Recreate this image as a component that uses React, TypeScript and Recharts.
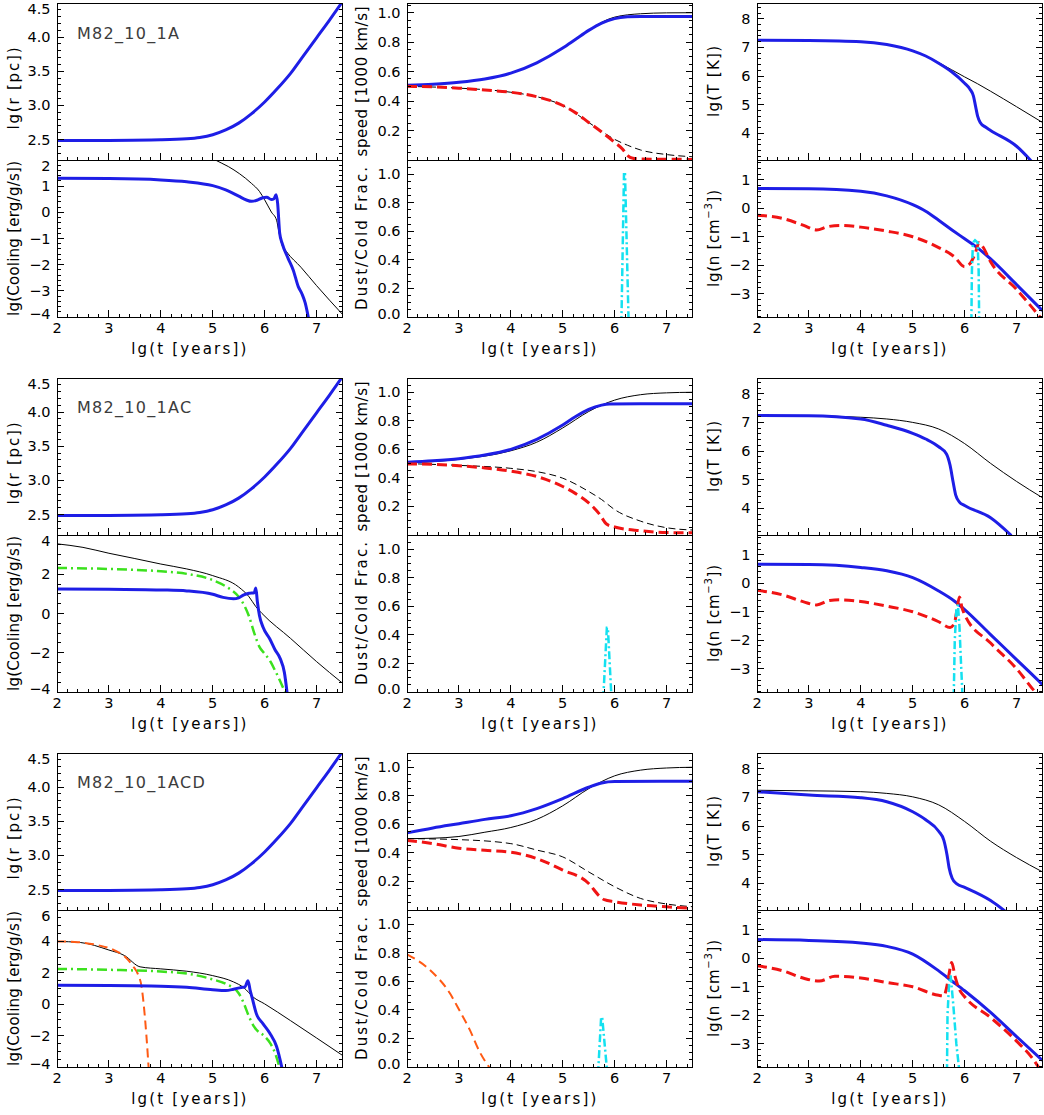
import React from 'react';
import { LineChart, Line, XAxis, YAxis } from 'recharts';

type Pt = [number, number];

const runNames = ['M82_10_1A', 'M82_10_1AC', 'M82_10_1ACD'];

// shared time axis, lg(t [years])
const tRange: [number, number] = [2, 7.5];
const tTicks = [2, 3, 4, 5, 6, 7];

const rTicks = [2.5, 3.0, 3.5, 4.0, 4.5];
const coolTicks = [
  [-4, -3, -2, -1, 0, 1, 2],
  [-4, -2, 0, 2, 4],
  [-4, -2, 0, 2, 4, 6],
];
const speedTicks = [0.2, 0.4, 0.6, 0.8, 1.0];
const fracTicks = [0.0, 0.2, 0.4, 0.6, 0.8, 1.0];
const tempTicks = [4, 5, 6, 7, 8];
const densTicks = [-3, -2, -1, 0, 1];

// shell radius, identical for the three runs
const radius: Pt[] = [[2, 2.485], [3, 2.487], [4, 2.495], [4.5, 2.51], [4.75, 2.53], [5, 2.57], [5.25, 2.64], [5.5, 2.74], [5.75, 2.88], [6, 3.05], [6.25, 3.25], [6.5, 3.47], [6.75, 3.73], [7, 3.99], [7.25, 4.25], [7.5, 4.52]];

// --- run A ---
const coolA_blue: Pt[] = [[2, 1.3], [3, 1.29], [4, 1.24], [4.5, 1.17], [5, 1.02], [5.25, 0.86], [5.5, 0.62], [5.65, 0.47], [5.75, 0.42], [5.85, 0.46], [5.95, 0.55], [6.04, 0.58], [6.13, 0.49], [6.18, 0.52], [6.22, 0.67], [6.25, 0.35], [6.29, -0.8], [6.34, -1.2], [6.45, -1.75], [6.55, -2.2], [6.65, -2.85], [6.72, -3.12], [6.78, -3.45], [6.86, -4.2]];
const coolA_black: Pt[] = [[4.8, 2.3], [5.05, 2.0], [5.3, 1.75], [5.52, 1.47], [5.75, 1.1], [5.9, 0.8], [6.0, 0.48], [6.13, 0.01], [6.23, -0.3], [6.27, -0.7], [6.33, -1.22], [6.42, -1.5], [6.7, -2.1], [7.0, -2.8], [7.5, -3.9]];
const speedA_blue: Pt[] = [[2, 0.507], [2.5, 0.515], [3, 0.528], [3.5, 0.55], [4, 0.59], [4.5, 0.66], [5, 0.76], [5.25, 0.82], [5.5, 0.88], [5.75, 0.93], [6, 0.96], [6.25, 0.972], [6.5, 0.975], [7, 0.975], [7.5, 0.975]];
const speedA_black: Pt[] = [[2, 0.505], [3, 0.527], [4, 0.59], [4.5, 0.66], [5, 0.76], [5.5, 0.88], [5.75, 0.935], [6, 0.97], [6.5, 0.993], [7, 0.999], [7.5, 1.0]];
const speedA_red: Pt[] = [[2, 0.5], [2.5, 0.497], [3, 0.488], [3.5, 0.475], [4, 0.46], [4.5, 0.43], [5, 0.37], [5.25, 0.32], [5.5, 0.255], [5.75, 0.19], [6, 0.12], [6.15, 0.075], [6.25, 0.03], [6.35, 0.012], [6.5, 0.007], [7, 0.005], [7.5, 0.004]];
const speedA_dash: Pt[] = [[2, 0.5], [3, 0.488], [4, 0.46], [4.5, 0.43], [5, 0.37], [5.5, 0.255], [5.75, 0.195], [6, 0.14], [6.25, 0.1], [6.5, 0.068], [7, 0.037], [7.5, 0.022]];
const fracA_cyan: Pt[] = [[6.13, -0.05], [6.18, 1.0], [6.2, 1.0], [6.27, -0.05]];
const tempA_blue: Pt[] = [[2, 7.25], [3, 7.24], [4, 7.2], [4.5, 7.1], [5, 6.88], [5.25, 6.7], [5.5, 6.45], [5.75, 6.15], [6, 5.75], [6.1, 5.55], [6.17, 5.3], [6.21, 4.95], [6.25, 4.6], [6.3, 4.38], [6.4, 4.22], [6.5, 4.1], [7, 3.55], [7.3, 3.0]];
const tempA_black: Pt[] = [[2, 7.25], [3, 7.24], [4, 7.2], [4.5, 7.1], [5, 6.88], [5.25, 6.7], [5.5, 6.47], [5.75, 6.22], [6, 5.97], [6.25, 5.73], [6.5, 5.47], [7, 4.93], [7.5, 4.38]];
const densA_blue: Pt[] = [[2, 0.7], [3, 0.69], [4, 0.6], [4.5, 0.44], [5, 0.13], [5.25, -0.1], [5.5, -0.42], [5.75, -0.75], [6, -1.07], [6.25, -1.39], [6.5, -1.78], [7, -2.68], [7.5, -3.6]];
const densA_red: Pt[] = [[2, -0.24], [2.5, -0.36], [2.9, -0.6], [3.15, -0.76], [3.35, -0.65], [3.6, -0.6], [4, -0.66], [4.5, -0.8], [5, -1.0], [5.5, -1.38], [5.8, -1.7], [6, -2.05], [6.1, -1.95], [6.2, -1.6], [6.28, -1.2], [6.35, -1.35], [6.5, -1.88], [7, -2.85], [7.45, -3.82], [7.55, -4.05]];
const densA_cyan: Pt[] = [[6.13, -4], [6.14, -2.2], [6.16, -1.2], [6.2, -1.12], [6.25, -1.2], [6.27, -2.2], [6.28, -4]];

// --- run AC ---
const coolAC_black: Pt[] = [[2, 3.55], [2.5, 3.37], [3, 3.07], [3.5, 2.8], [4, 2.52], [4.5, 2.27], [5, 1.93], [5.5, 1.35], [5.7, 0.85], [5.83, 0.35], [5.95, 0.0], [6.5, -1.27], [7, -2.45], [7.5, -3.55]];
const coolAC_green: Pt[] = [[2, 2.32], [3, 2.27], [4, 2.15], [4.5, 2.02], [5, 1.7], [5.25, 1.38], [5.5, 0.85], [5.6, 0.45], [5.7, -0.15], [5.8, -1.0], [5.9, -1.7], [6, -2.05], [6.1, -2.4], [6.2, -2.9], [6.3, -3.45], [6.42, -4.2]];
const coolAC_blue: Pt[] = [[2, 1.25], [3, 1.24], [4, 1.2], [4.5, 1.15], [5, 0.98], [5.2, 0.82], [5.4, 0.75], [5.5, 0.8], [5.6, 0.95], [5.7, 1.03], [5.8, 1.06], [5.83, 1.3], [5.86, 0.6], [5.9, -0.1], [5.97, -0.7], [6.1, -1.3], [6.2, -1.85], [6.3, -2.3], [6.38, -3.0], [6.44, -4.2]];
const speedAC_blue: Pt[] = [[2, 0.51], [2.5, 0.52], [3, 0.535], [3.5, 0.56], [4, 0.6], [4.5, 0.67], [5, 0.77], [5.25, 0.83], [5.5, 0.88], [5.75, 0.91], [5.9, 0.918], [6.5, 0.919], [7.5, 0.919]];
const speedAC_black: Pt[] = [[2, 0.505], [3, 0.53], [4, 0.59], [4.5, 0.65], [5, 0.75], [5.5, 0.865], [5.75, 0.91], [6, 0.945], [6.5, 0.983], [7, 0.996], [7.5, 1.0]];
const speedAC_red: Pt[] = [[2, 0.498], [2.5, 0.495], [3, 0.485], [3.5, 0.47], [4, 0.447], [4.5, 0.41], [5, 0.34], [5.25, 0.29], [5.5, 0.225], [5.7, 0.15], [5.85, 0.075], [6, 0.056], [6.5, 0.03], [7, 0.017], [7.5, 0.015]];
const speedAC_dash: Pt[] = [[2, 0.5], [3, 0.488], [4, 0.467], [4.5, 0.444], [5, 0.398], [5.5, 0.305], [5.75, 0.248], [6, 0.178], [6.5, 0.097], [7, 0.051], [7.5, 0.035]];
const fracAC_cyan: Pt[] = [[5.78, -0.05], [5.85, 0.45], [5.87, 0.45], [5.94, -0.05]];
const tempAC_blue: Pt[] = [[2, 7.24], [3, 7.23], [4, 7.12], [4.5, 6.9], [5, 6.62], [5.25, 6.42], [5.5, 6.15], [5.65, 5.9], [5.72, 5.5], [5.78, 4.9], [5.83, 4.45], [5.9, 4.22], [6, 4.1], [6.5, 3.67], [6.9, 3.05]];
const tempAC_black: Pt[] = [[2, 7.24], [3, 7.23], [4, 7.18], [4.5, 7.12], [5, 7.0], [5.5, 6.77], [6, 6.26], [6.5, 5.57], [7, 4.94], [7.5, 4.37]];
const densAC_blue: Pt[] = [[2, 0.67], [3, 0.66], [4, 0.56], [4.5, 0.44], [5, 0.2], [5.5, -0.27], [5.8, -0.62], [6, -0.92], [6.5, -1.8], [7, -2.68], [7.5, -3.56]];
const densAC_red: Pt[] = [[2, -0.24], [2.5, -0.41], [2.9, -0.65], [3.15, -0.76], [3.4, -0.6], [3.6, -0.58], [4, -0.64], [4.5, -0.8], [5, -1.0], [5.5, -1.35], [5.72, -1.55], [5.8, -1.42], [5.85, -0.95], [5.9, -0.48], [5.95, -0.86], [6, -1.1], [6.5, -2.1], [7, -3.0], [7.35, -3.8], [7.45, -4.0]];
const densAC_cyan: Pt[] = [[5.79, -4], [5.81, -2.0], [5.84, -0.95], [5.87, -0.75], [5.9, -1.5], [5.93, -2.8], [5.96, -4]];

// --- run ACD ---
const coolACD_black: Pt[] = [[2, 4.0], [2.45, 3.93], [3, 3.45], [3.3, 3.1], [3.6, 2.38], [4, 2.25], [4.5, 2.1], [5, 1.82], [5.4, 1.42], [5.6, 1.05], [5.78, 0.45], [6, 0.02], [6.5, -1.05], [7, -2.15], [7.5, -3.26]];
const coolACD_orange: Pt[] = [[2, 4.0], [2.4, 3.95], [2.8, 3.75], [3.1, 3.45], [3.3, 3.05], [3.47, 2.4], [3.56, 1.9], [3.63, 1.1], [3.67, 0], [3.72, -1.9], [3.77, -4.3]];
const coolACD_green: Pt[] = [[2, 2.25], [3, 2.19], [4, 2.08], [4.5, 1.95], [5, 1.58], [5.25, 1.3], [5.5, 0.7], [5.6, 0.05], [5.7, -0.8], [5.8, -1.45], [6, -2.05], [6.1, -2.45], [6.2, -3.1], [6.3, -4.2]];
const coolACD_blue: Pt[] = [[2, 1.2], [3, 1.19], [4, 1.15], [4.5, 1.08], [5, 0.92], [5.25, 0.87], [5.4, 0.95], [5.55, 1.07], [5.62, 1.1], [5.68, 1.5], [5.72, 0.9], [5.76, 0.4], [5.84, -0.6], [5.97, -1.25], [6.1, -1.85], [6.23, -2.7], [6.35, -4.3]];
const speedACD_blue: Pt[] = [[2, 0.54], [2.5, 0.575], [3, 0.605], [3.5, 0.635], [4, 0.66], [4.5, 0.71], [5, 0.78], [5.5, 0.86], [5.75, 0.89], [6, 0.9], [7.5, 0.902]];
const speedACD_black: Pt[] = [[2, 0.5], [2.5, 0.503], [3, 0.515], [3.5, 0.545], [4, 0.578], [4.5, 0.635], [5, 0.73], [5.5, 0.85], [6, 0.94], [6.5, 0.98], [7, 0.995], [7.5, 1.0]];
const speedACD_red: Pt[] = [[2, 0.488], [2.5, 0.465], [3, 0.433], [3.5, 0.418], [4, 0.405], [4.5, 0.36], [5, 0.28], [5.5, 0.186], [5.7, 0.1], [5.8, 0.072], [6, 0.058], [6.5, 0.035], [7, 0.022], [7.5, 0.012]];
const speedACD_dash: Pt[] = [[2, 0.5], [3, 0.493], [4, 0.465], [4.5, 0.42], [5, 0.372], [5.5, 0.267], [6, 0.163], [6.5, 0.081], [7, 0.042], [7.5, 0.023]];
const fracACD_orange: Pt[] = [[2, 0.79], [2.44, 0.68], [2.82, 0.52], [3.02, 0.39], [3.21, 0.26], [3.4, 0.106], [3.6, -0.01]];
const fracACD_cyan: Pt[] = [[5.68, -0.05], [5.74, 0.35], [5.76, 0.35], [5.86, -0.05]];
const tempACD_blue: Pt[] = [[2, 7.2], [3, 7.08], [4, 6.99], [4.5, 6.85], [5, 6.5], [5.25, 6.22], [5.5, 5.82], [5.6, 5.5], [5.66, 5.0], [5.7, 4.55], [5.76, 4.18], [5.85, 3.98], [6, 3.86], [6.5, 3.4], [6.8, 3.0]];
const tempACD_black: Pt[] = [[2, 7.25], [3, 7.23], [4, 7.2], [4.5, 7.14], [5, 7.02], [5.5, 6.74], [6, 6.16], [6.5, 5.47], [7, 4.9], [7.5, 4.4]];
const densACD_blue: Pt[] = [[2, 0.66], [3, 0.63], [4, 0.54], [4.5, 0.42], [5, 0.15], [5.5, -0.44], [5.75, -0.79], [6, -1.14], [6.5, -1.9], [7, -2.75], [7.5, -3.59]];
const densACD_red: Pt[] = [[2, -0.26], [2.5, -0.44], [2.9, -0.7], [3.2, -0.8], [3.5, -0.63], [4, -0.69], [4.5, -0.85], [5, -1.0], [5.5, -1.3], [5.6, -1.32], [5.65, -1.05], [5.7, -0.55], [5.75, -0.15], [5.82, -0.67], [5.9, -1.1], [6, -1.35], [6.5, -2.08], [7, -2.91], [7.3, -3.5], [7.45, -3.9]];
const densACD_cyan: Pt[] = [[5.66, -4], [5.67, -2.0], [5.7, -0.9], [5.73, -0.6], [5.78, -1.6], [5.84, -3.0], [5.9, -4]];

// layout (px)
const colLeft = [57, 407, 757];
const rowTop = [3, 377.5, 752.5];
const YW = 72;
const titleX = [YW - 43, YW - 45, YW - 43];
const PLOT_W = 285.5;
const PLOT_H = 157;
const RW = 2;
const TH = 2;

const FONT = 'DejaVu Sans, Verdana, sans-serif';
const BLUE = '#1e1ee6';
const RED = '#f01414';
const CYAN = '#14e1f0';
const GREEN = '#3ce11e';
const ORANGE = '#ff5a14';

type Series = { pts: Pt[]; color: string; w: number; dash?: string; linear?: boolean };
type Spec = {
  domain: [number, number];
  ticks: number[];
  minor: number;
  fmt: (v: number) => string;
  title: React.ReactNode;
  titleLen: number;
  titleShift?: number;
  series: Series[];
};

const blueLine = (pts: Pt[]): Series => ({ pts, color: BLUE, w: 3 });
const blackLine = (pts: Pt[]): Series => ({ pts, color: '#000', w: 1 });
const redDash = (pts: Pt[]): Series => ({ pts, color: RED, w: 3, dash: '10 5' });
const blackDash = (pts: Pt[]): Series => ({ pts, color: '#000', w: 1, dash: '7 4' });
const cyanDot = (pts: Pt[]): Series => ({ pts, color: CYAN, w: 2.5, dash: '8 3 2 3', linear: true });
const greenDot = (pts: Pt[]): Series => ({ pts, color: GREEN, w: 2.5, dash: '10 4 2 4' });
const orangeDash = (pts: Pt[]): Series => ({ pts, color: ORANGE, w: 2, dash: '9 5' });

const fix1 = (v: number) => v.toFixed(1);
const signed = (v: number) => (v < 0 ? '\u2212' : '') + Math.abs(v);

const withMinor = (d: [number, number], majors: number[], step: number) => {
  const out = [...majors];
  const start = Math.ceil(d[0] / step - 1e-6);
  for (let k = start; k * step <= d[1] + 1e-6; k++) {
    const v = +(k * step).toFixed(4);
    if (!out.some((m) => Math.abs(m - v) < 1e-6)) out.push(v);
  }
  return out.filter((v) => v >= d[0] - 1e-6 && v <= d[1] + 1e-6).sort((a, b) => a - b);
};

const makeTick = (
  side: 'left' | 'right' | 'top' | 'bottom',
  majors: number[],
  fmt: ((v: number) => string) | null,
  lo = 0,
  hi = 0,
) => (props: any) => {
  const { x, y, payload } = props;
  const v = payload.value;
  const major = majors.some((m) => Math.abs(m - v) < 1e-6);
  const len = major ? 7 : 3.5;
  let x2 = x;
  let y2 = y;
  if (side === 'left') x2 = x + len;
  else if (side === 'right') x2 = x - len;
  else if (side === 'top') y2 = y + len;
  else y2 = y - len;
  let label = null;
  if (major && fmt && side === 'left') {
    const ly = Math.min(Math.max(y, lo + 5.5), hi - 3.5);
    label = (
      <text x={x - 6.5} y={ly} textAnchor="end" dominantBaseline="central" fontFamily={FONT} fontSize={14.5} fill="#000">
        {fmt(v)}
      </text>
    );
  }
  if (major && fmt && side === 'bottom') {
    label = (
      <text x={x} y={y + 11} textAnchor="middle" dominantBaseline="central" fontFamily={FONT} fontSize={14.5} fill="#000">
        {fmt(v)}
      </text>
    );
  }
  return (
    <g>
      <line x1={x} y1={y} x2={x2} y2={y2} stroke="#000" strokeWidth={1} shapeRendering="crispEdges" />
      {label}
    </g>
  );
};

const yTitle = (text: React.ReactNode, cx: number, len: number, shift: number) => (props: any) => {
  const vb = props.viewBox;
  const cy = vb.y + vb.height / 2 + shift;
  return (
    <text
      x={cx}
      y={cy}
      transform={`rotate(-90 ${cx} ${cy})`}
      textAnchor="middle"
      dominantBaseline="central"
      textLength={len}
      lengthAdjust="spacing"
      fontFamily={FONT}
      fontSize={15}
      fill="#000"
    >
      {text}
    </text>
  );
};

const xTitle = (props: any) => {
  const vb = props.viewBox;
  const cx = vb.x + vb.width / 2 - 11;
  return (
    <text x={cx} y={vb.y + 36.5} textAnchor="middle" textLength={115} lengthAdjust="spacing" fontFamily={FONT} fontSize={15} fill="#000">
      lg(t [years])
    </text>
  );
};

const axisLine = { stroke: '#000', strokeWidth: 1, shapeRendering: 'crispEdges' } as any;

const Panel = ({ spec, col, top, bottomLabels }: { spec: Spec; col: number; top: number; bottomLabels: boolean }) => {
  const BH = bottomLabels ? 45 : 2;
  const W = YW + PLOT_W + RW;
  const H = TH + PLOT_H + BH;
  const xAll = withMinor(tRange, tTicks, 0.2);
  const yAll = withMinor(spec.domain, spec.ticks, spec.minor);
  return (
    <div style={{ position: 'absolute', left: colLeft[col] - YW, top: top - TH }}>
      <LineChart width={W} height={H} margin={{ top: 0, right: 0, bottom: 0, left: 0 }}>
        <XAxis
          xAxisId="b"
          orientation="bottom"
          type="number"
          dataKey="x"
          domain={tRange}
          allowDataOverflow
          ticks={xAll}
          interval={0}
          tickLine={false}
          tickSize={0}
          tickMargin={0}
          height={BH}
          axisLine={axisLine}
          tick={makeTick('bottom', tTicks, bottomLabels ? String : null)}
          label={bottomLabels ? xTitle : undefined}
        />
        <XAxis
          xAxisId="t"
          orientation="top"
          type="number"
          domain={tRange}
          allowDataOverflow
          ticks={xAll}
          interval={0}
          tickLine={false}
          tickSize={0}
          tickMargin={0}
          height={TH}
          axisLine={axisLine}
          tick={makeTick('top', tTicks, null)}
        />
        <YAxis
          yAxisId="l"
          orientation="left"
          type="number"
          domain={spec.domain}
          allowDataOverflow
          ticks={yAll}
          interval={0}
          tickLine={false}
          tickSize={0}
          tickMargin={0}
          width={YW}
          axisLine={axisLine}
          tick={makeTick('left', spec.ticks, spec.fmt, TH, TH + PLOT_H)}
          label={yTitle(spec.title, titleX[col], spec.titleLen, spec.titleShift ?? 0)}
        />
        <YAxis
          yAxisId="r"
          orientation="right"
          type="number"
          domain={spec.domain}
          allowDataOverflow
          ticks={yAll}
          interval={0}
          tickLine={false}
          tickSize={0}
          tickMargin={0}
          width={RW}
          axisLine={axisLine}
          tick={makeTick('right', spec.ticks, null)}
        />
        {spec.series.map((s, i) => (
          <Line
            key={i}
            xAxisId="b"
            yAxisId="l"
            data={s.pts.map(([x, y]) => ({ x, y }))}
            dataKey="y"
            type={s.linear ? 'linear' : 'monotone'}
            stroke={s.color}
            strokeWidth={s.w}
            strokeDasharray={s.dash}
            dot={false}
            activeDot={false}
            isAnimationActive={false}
          />
        ))}
      </LineChart>
    </div>
  );
};

const densTitle = (
  <>
    lg(n [cm<tspan dy={-6} fontSize={10}>{'\u22123'}</tspan>
    <tspan dy={6}>])</tspan>
  </>
);

const radiusSpec: Spec = { domain: [2.2, 4.5], ticks: rTicks, minor: 0.1, fmt: fix1, title: 'lg(r [pc])', titleLen: 82, titleShift: 7, series: [blueLine(radius)] };

const coolDomains: [number, number][] = [[-4, 2], [-4, 4], [-4, 6]];
const coolMinor = [0.2, 0.5, 0.5];
const speedDomains: [number, number][] = [[0, 1.066], [0, 1.1], [0, 1.1]];

const coolSeries: Series[][] = [
  [blackLine(coolA_black), blueLine(coolA_blue)],
  [blackLine(coolAC_black), greenDot(coolAC_green), blueLine(coolAC_blue)],
  [blackLine(coolACD_black), orangeDash(coolACD_orange), greenDot(coolACD_green), blueLine(coolACD_blue)],
];
const speedSeries: Series[][] = [
  [blackLine(speedA_black), blackDash(speedA_dash), blueLine(speedA_blue), redDash(speedA_red)],
  [blackLine(speedAC_black), blackDash(speedAC_dash), blueLine(speedAC_blue), redDash(speedAC_red)],
  [blackLine(speedACD_black), blackDash(speedACD_dash), blueLine(speedACD_blue), redDash(speedACD_red)],
];
const fracSeries: Series[][] = [
  [cyanDot(fracA_cyan)],
  [cyanDot(fracAC_cyan)],
  [orangeDash(fracACD_orange), cyanDot(fracACD_cyan)],
];
const tempSeries: Series[][] = [
  [blackLine(tempA_black), blueLine(tempA_blue)],
  [blackLine(tempAC_black), blueLine(tempAC_blue)],
  [blackLine(tempACD_black), blueLine(tempACD_blue)],
];
const densSeries: Series[][] = [
  [blueLine(densA_blue), redDash(densA_red), cyanDot(densA_cyan)],
  [blueLine(densAC_blue), redDash(densAC_red), cyanDot(densAC_cyan)],
  [blueLine(densACD_blue), redDash(densACD_red), cyanDot(densACD_cyan)],
];

export default function App() {
  return (
    <div style={{ position: 'absolute', left: 0, top: 0, width: 1044, height: 1115, background: '#fff', overflow: 'hidden' }}>
      {runNames.map((name, row) => {
        const top = rowTop[row];
        const bot = top + PLOT_H;
        const specs: [Spec, Spec][] = [
          [
            radiusSpec,
            { domain: coolDomains[row], ticks: coolTicks[row], minor: coolMinor[row], fmt: signed, title: 'lg(Cooling [erg/g/s])', titleLen: 155, series: coolSeries[row] },
          ],
          [
            { domain: speedDomains[row], ticks: speedTicks, minor: 0.05, fmt: fix1, title: 'speed [1000 km/s]', titleLen: 150, series: speedSeries[row] },
            { domain: [0, 1.1], ticks: fracTicks, minor: 0.05, fmt: fix1, title: 'Dust/Cold Frac.', titleLen: 143, series: fracSeries[row] },
          ],
          [
            { domain: [3.07, 8.55], ticks: tempTicks, minor: 0.2, fmt: String, title: 'lg(T [K])', titleLen: 71, series: tempSeries[row] },
            { domain: [-3.82, 1.7], ticks: densTicks, minor: 0.2, fmt: signed, title: densTitle, titleLen: 97, series: densSeries[row] },
          ],
        ];
        return (
          <React.Fragment key={name}>
            {specs.map(([upper, lower], col) => (
              <React.Fragment key={col}>
                <Panel spec={upper} col={col} top={top} bottomLabels={false} />
                <Panel spec={lower} col={col} top={bot} bottomLabels />
              </React.Fragment>
            ))}
            <div
              style={{
                position: 'absolute',
                left: 77,
                top: top + 22.8,
                fontFamily: FONT,
                fontSize: 16,
                lineHeight: '16px',
                letterSpacing: 1.3,
                color: '#3c3c3c',
                whiteSpace: 'nowrap',
              }}
            >
              {name}
            </div>
          </React.Fragment>
        );
      })}
    </div>
  );
}
